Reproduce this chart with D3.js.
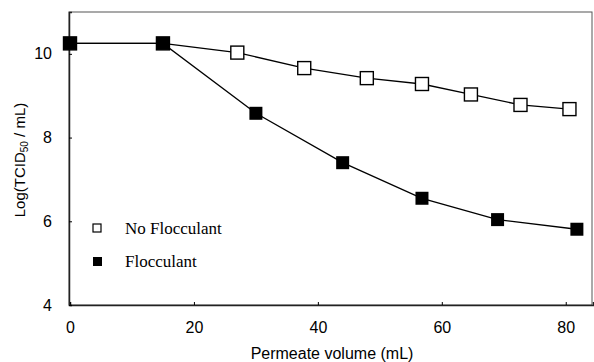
<!DOCTYPE html>
<html>
<head>
<meta charset="utf-8">
<script src="https://cdn.jsdelivr.net/npm/d3@7"></script>
<style>
  body { margin: 0; background: #fff; }
  svg { display: block; }
</style>
</head>
<body>
<script>
// permeate volume (mL) and Log(TCID50/mL) per series
const noFlocX = [0, 15, 27, 37.8, 47.9, 56.8, 64.7, 72.7, 80.6];
const noFlocY = [10.25, 10.25, 10.03, 9.66, 9.42, 9.28, 9.03, 8.78, 8.68];
const flocX = [0, 15, 30, 44, 56.8, 69, 81.8];
const flocY = [10.25, 10.25, 8.58, 7.4, 6.55, 6.04, 5.81];
const xTicks = [0, 20, 40, 60, 80];
const yTicks = [4, 6, 8, 10];

const width = 594, height = 362;
const margin = { top: 12, right: 1, bottom: 57, left: 69 };
const sans = 'Liberation Sans, Arial, sans-serif';

const x = d3.scaleLinear()
    .domain([0, 84.4])
    .range([margin.left + 1, width - margin.right]);

const y = d3.scaleLinear()
    .domain([4, 11])
    .range([height - margin.bottom, margin.top]);

const svg = d3.create('svg')
    .attr('width', width)
    .attr('height', height);

// frame
svg.append('rect')
    .attr('x', margin.left)
    .attr('y', margin.top)
    .attr('width', width - margin.right - margin.left - 1)
    .attr('height', height - margin.bottom - margin.top)
    .attr('fill', 'none')
    .attr('stroke', '#555')
    .attr('stroke-width', 1);

const x_axis = d3.axisBottom(x)
    .tickValues(xTicks)
    .tickFormat(d3.format('d'))
    .tickSize(-3)
    .tickPadding(17);

const y_axis = d3.axisLeft(y)
    .tickValues(yTicks)
    .tickFormat(d3.format('d'))
    .tickSize(-3)
    .tickPadding(17);

svg.append('g')
    .attr('transform', `translate(0,${height - margin.bottom})`)
    .call(x_axis)
    .call(g => g.select('.domain').attr('stroke', '#222').attr('stroke-width', 1.5))
    .call(g => g.selectAll('text').attr('font-family', sans).attr('font-size', 16).attr('fill', '#000'));

svg.append('g')
    .attr('transform', `translate(${margin.left},0)`)
    .call(y_axis)
    .call(g => g.select('.domain').attr('stroke', '#222').attr('stroke-width', 1.5))
    .call(g => g.selectAll('text').attr('font-family', sans).attr('font-size', 16).attr('fill', '#000'));

const line = d3.line()
    .x(d => x(d[0]))
    .y(d => y(d[1]));

const noFloc = noFlocX.map((v, i) => [v, noFlocY[i]]);
const floc = flocX.map((v, i) => [v, flocY[i]]);

svg.append('path')
    .attr('d', line(noFloc))
    .attr('fill', 'none')
    .attr('stroke', '#000')
    .attr('stroke-width', 1.3);

svg.append('path')
    .attr('d', line(floc))
    .attr('fill', 'none')
    .attr('stroke', '#000')
    .attr('stroke-width', 1.3);

const s = 13;
svg.append('g')
    .selectAll('rect')
    .data(noFloc)
    .join('rect')
    .attr('x', d => x(d[0]) - s / 2)
    .attr('y', d => y(d[1]) - s / 2)
    .attr('width', s)
    .attr('height', s)
    .attr('fill', '#fff')
    .attr('stroke', '#000')
    .attr('stroke-width', 1.4);

svg.append('g')
    .selectAll('rect')
    .data(floc)
    .join('rect')
    .attr('x', d => x(d[0]) - s / 2)
    .attr('y', d => y(d[1]) - s / 2)
    .attr('width', s)
    .attr('height', s)
    .attr('fill', '#000');

// legend
const legend = svg.append('g')
    .attr('font-family', 'Liberation Serif, Times New Roman, serif')
    .attr('font-size', 17);

legend.append('rect')
    .attr('x', 93).attr('y', 224).attr('width', 8).attr('height', 8)
    .attr('fill', '#fff').attr('stroke', '#000').attr('stroke-width', 1.2);
legend.append('text')
    .attr('x', 125).attr('y', 234).text('No Flocculant');

legend.append('rect')
    .attr('x', 93).attr('y', 257).attr('width', 9).attr('height', 9)
    .attr('fill', '#000');
legend.append('text')
    .attr('x', 125).attr('y', 267).text('Flocculant');

// axis titles
svg.append('text')
    .attr('x', 332)
    .attr('y', 359)
    .attr('text-anchor', 'middle')
    .attr('font-family', sans)
    .attr('font-size', 16)
    .text('Permeate volume (mL)');

const yt = svg.append('text')
    .attr('transform', 'translate(25,160) rotate(-90)')
    .attr('text-anchor', 'middle')
    .attr('font-family', sans)
    .attr('font-size', 15);
yt.append('tspan').text('Log(TCID');
yt.append('tspan').attr('font-size', 10).attr('dy', 3).text('50');
yt.append('tspan').attr('dy', -3).text(' / mL)');

document.querySelector('body').appendChild(svg.node());
</script>
</body>
</html>
